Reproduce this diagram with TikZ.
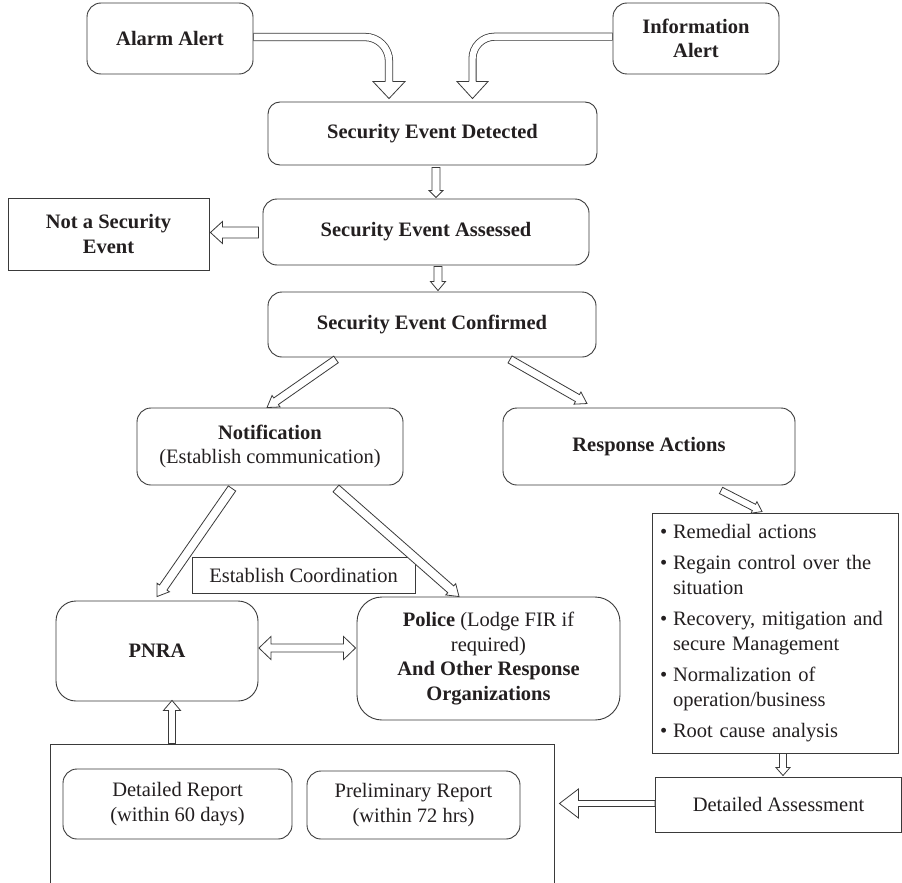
\documentclass[tikz,border=0pt]{standalone}
\usepackage{fontspec}
\setmainfont{Liberation Serif}
\usetikzlibrary{calc}
\definecolor{lc}{HTML}{3A3A3A}
\definecolor{tc}{HTML}{231F20}
\newcommand{\fs}{\fontsize{20.5}{24.5}\selectfont}
\newcommand{\bul}{\makebox[13pt][l]{•}}
\newcommand{\ind}{\hspace*{13pt}}
% straight block arrow: start, tip, shaft half width, head half width, head length
\newcommand{\barr}[5]{%
 \path let \p1=($(#2)-(#1)$) in \pgfextra{%
   \pgfmathparse{atan2(\y1,\x1)}\xdef\barang{\pgfmathresult}%
   \pgfmathparse{veclen(\x1,\y1)}\xdef\barlen{\pgfmathresult}};
 \begin{scope}[shift={(#1)}, rotate=\barang]
   \filldraw[barrow] (0,#3) -- ({\barlen-#5},#3) -- ({\barlen-#5},#4) -- (\barlen,0)
     -- ({\barlen-#5},-#4) -- ({\barlen-#5},-#3) -- (0,-#3) -- cycle;
 \end{scope}}
% double block arrow
\newcommand{\dbarr}[5]{%
 \path let \p1=($(#2)-(#1)$) in \pgfextra{%
   \pgfmathparse{atan2(\y1,\x1)}\xdef\barang{\pgfmathresult}%
   \pgfmathparse{veclen(\x1,\y1)}\xdef\barlen{\pgfmathresult}};
 \begin{scope}[shift={(#1)}, rotate=\barang]
   \filldraw[barrow] (0,0) -- (#5,#4) -- (#5,#3) -- ({\barlen-#5},#3) -- ({\barlen-#5},#4)
     -- (\barlen,0) -- ({\barlen-#5},-#4) -- ({\barlen-#5},-#3) -- (#5,-#3) -- (#5,-#4) -- cycle;
 \end{scope}}
% arrow head only at a point: point, angle, shaft half width, head half width, head length
\newcommand{\headat}[5]{%
 \begin{scope}[shift={(#1)}, rotate=#2]
   \filldraw[barrow] (0,#3) -- (0,#4) -- (#5,0) -- (0,-#4) -- (0,-#3);
 \end{scope}}
\tikzset{
  rbox/.style={draw=lc, line width=0.9pt, rounded corners=14pt, align=center, inner sep=2pt, text=tc},
  sbox/.style={draw=lc, line width=0.9pt, align=center, inner sep=2pt, text=tc},
  bf/.style={font=\fs\bfseries},
  barrow/.style={draw=lc, fill=white, line width=0.8pt, line join=miter},
}
\begin{document}
\begin{tikzpicture}[x=1pt, y=-1pt, font=\fs]
\useasboundingbox[fill=white] (0,0) rectangle (902,883);

% nodes
\node[rbox, bf, minimum width=166pt, minimum height=71pt] (al) at (170,38.5) {Alarm Alert};
\node[rbox, bf, minimum width=166pt, minimum height=71pt] (inf) at (696,38.5) {Information\\Alert};
\node[rbox, bf, minimum width=329pt, minimum height=63pt, rounded corners=12pt] (det) at (432.5,133.5) {Security Event Detected};
\node[rbox, bf, minimum width=326pt, minimum height=66pt] (ass) at (426,232) {Security Event Assessed};
\node[sbox, bf, minimum width=201pt, minimum height=72pt] (nse) at (108.5,234) {Not a Security\\Event};
\node[rbox, bf, minimum width=328pt, minimum height=65pt] (con) at (432,324.5) {Security Event Confirmed};
\node[rbox, minimum width=266pt, minimum height=77pt] (noti) at (270,446.5) {\textbf{Notification}\\(Establish communication)};
\node[rbox, bf, minimum width=292pt, minimum height=77pt] (resp) at (649,446.5) {Response Actions};
\node[sbox, minimum width=223pt, minimum height=36pt] (coord) at (303.5,575) {Establish Coordination};
\node[rbox, bf, minimum width=202pt, minimum height=100pt, rounded corners=20pt] (pnra) at (157,651) {PNRA};
\node[rbox, minimum width=263pt, minimum height=123pt, rounded corners=25pt] (pol) at (488.5,658.5)
  {\textbf{Police} (Lodge FIR if\\required)\\\textbf{And Other Response}\\\textbf{Organizations}};
\node[sbox, minimum width=246pt, minimum height=240pt, text width=230pt, inner xsep=8pt, align=left] (list) at (775,633)
  {\bul Remedial actions\\[7pt]
   \bul Regain control over the\\
   \ind situation\\[7pt]
   \bul Recovery, mitigation and\\
   \ind secure Management\\[7pt]
   \bul Normalization of\\
   \ind operation/business\\[7pt]
   \bul Root cause analysis};
\node[sbox, minimum width=246pt, minimum height=55pt] (da) at (778.5,804.5) {Detailed Assessment};
\node[sbox, minimum width=504pt, minimum height=139pt] (outer) at (302,813.5) {};
\node[rbox, minimum width=229pt, minimum height=70pt] (dr) at (177.5,804) {Detailed Report\\(within 60 days)};
\node[rbox, minimum width=213pt, minimum height=68pt] (pr) at (413.5,805) {Preliminary Report\\(within 72 hrs)};

% curved arrows from the alerts
\coordinate (a1) at ($(al.east)+(0,-1.5)$);
\coordinate (a2) at ($(det.north)+(-43.5,-20)$);
\draw[line width=8.2pt, lc, rounded corners=24pt] (a1) -| (a2);
\draw[line width=6.6pt, white, rounded corners=24pt] ($(a1)+(0.6,0)$) -| ($(a2)+(0,0.5)$);
\headat{a2}{-90}{3.7}{16}{17}

\coordinate (i1) at ($(inf.west)+(0,-1.8)$);
\coordinate (i2) at ($(det.north)+(40,-20)$);
\draw[line width=8.0pt, lc, rounded corners=22pt] (i1) -| (i2);
\draw[line width=6.4pt, white, rounded corners=22pt] ($(i1)+(-0.6,0)$) -| ($(i2)+(0,0.5)$);
\headat{i2}{-90}{3.6}{15.5}{17}

% straight arrows
\coordinate (s1) at ($(det.south)+(3.5,2)$);
\coordinate (e1) at ($(ass.north)+(10,-1)$);
\barr{s1}{e1}{4}{7}{7}
\coordinate (s2) at ($(ass.south)+(12,1)$);
\coordinate (e2) at ($(con.north)+(6,-1)$);
\barr{s2}{e2}{4}{7.5}{9}
\coordinate (s3) at ($(ass.west)+(-4,0.5)$);
\coordinate (e3) at ($(nse.east)+(1,-1.5)$);
\barr{s3}{e3}{5.5}{11}{12}
\coordinate (s4) at ($(con.south)+(-96,2)$);
\coordinate (e4) at ($(noti.north)+(-3,0)$);
\barr{s4}{e4}{4}{7}{11}
\coordinate (s5) at ($(con.south)+(78,2)$);
\coordinate (e5) at ($(resp.north)+(-62,-4)$);
\barr{s5}{e5}{4}{7}{11}
\coordinate (s6) at ($(noti.south)+(-38,3)$);
\coordinate (e6) at ($(pnra.north)+(0,-4)$);
\barr{s6}{e6}{4.5}{7.5}{11}
\coordinate (s7) at ($(noti.south)+(66,3)$);
\coordinate (e7) at ($(pol.north)+(-29.5,0)$);
\barr{s7}{e7}{4.5}{7.5}{11}
\coordinate (s8) at ($(resp.south)+(72,5)$);
\coordinate (e8) at ($(list.north)+(-13,-1)$);
\barr{s8}{e8}{3.5}{6.5}{9}
\coordinate (s9) at ($(pnra.east)+(0.5,-3)$);
\coordinate (e9) at ($(pol.west)+(-1,-10.5)$);
\dbarr{s9}{e9}{4}{11.5}{12}
\coordinate (s10) at ($(outer.north)+(-130,0)$);
\coordinate (e10) at ($(pnra.south)+(15,-1)$);
\barr{s10}{e10}{3.5}{8.5}{10}
\coordinate (s11) at ($(list.south)+(8,0)$);
\coordinate (e11) at ($(da.north)+(4.5,-1)$);
\barr{s11}{e11}{3.5}{7}{8}
\coordinate (s12) at ($(da.west)+(0,-1)$);
\coordinate (e12) at ($(outer.east)+(5,-10)$);
\barr{s12}{e12}{3}{14.5}{19}
\end{tikzpicture}
\end{document}
